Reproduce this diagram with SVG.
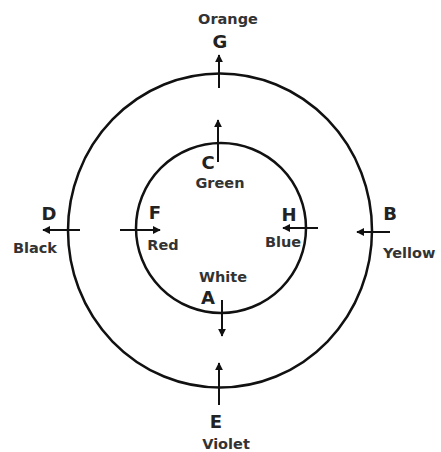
<svg xmlns="http://www.w3.org/2000/svg" width="441" height="452" viewBox="0 0 441 452">
<style>
.ring{fill:none;stroke:#111;stroke-width:2.5}
.arr{stroke:#111;stroke-width:2;fill:none}
.let{font-family:"DejaVu Sans",sans-serif;font-weight:bold;font-size:18px;fill:#222;text-anchor:middle}
.col{font-family:"DejaVu Sans",sans-serif;font-weight:bold;font-size:14.5px;fill:#333;text-anchor:middle}
</style>
<defs>
<marker id="ah" viewBox="0 0 10 10" refX="9" refY="5" markerWidth="4" markerHeight="4" orient="auto">
<path d="M0,0 L10,5 L0,10 z" fill="#111"/>
</marker>
</defs>
<rect width="441" height="452" fill="#fff"/>
<g id="outer"><ellipse class="ring" cx="220" cy="230.5" rx="152" ry="157"/></g>
<g id="inner"><circle class="ring" cx="221" cy="228" r="85"/></g>
<g id="connectors">
<line class="arr" x1="219" y1="88" x2="219" y2="55" marker-end="url(#ah)"/>
<line class="arr" x1="218" y1="162" x2="218" y2="120" marker-end="url(#ah)"/>
<line class="arr" x1="80" y1="230" x2="43" y2="230" marker-end="url(#ah)"/>
<line class="arr" x1="120" y1="230" x2="160" y2="230" marker-end="url(#ah)"/>
<line class="arr" x1="318" y1="228" x2="283" y2="228" marker-end="url(#ah)"/>
<line class="arr" x1="390" y1="232" x2="357" y2="232" marker-end="url(#ah)"/>
<line class="arr" x1="222" y1="300" x2="222" y2="336" marker-end="url(#ah)"/>
<line class="arr" x1="219" y1="405" x2="219" y2="363" marker-end="url(#ah)"/>
</g>
<g id="G"><text class="col" x="228" y="24">Orange</text><text class="let" x="220" y="48">G</text></g>
<g id="C"><text class="let" x="208" y="169">C</text><text class="col" x="220" y="188">Green</text></g>
<g id="D"><text class="let" x="49" y="220">D</text><text class="col" x="35" y="253">Black</text></g>
<g id="F"><text class="let" x="155" y="219">F</text><text class="col" x="163" y="250">Red</text></g>
<g id="H"><text class="let" x="289" y="221">H</text><text class="col" x="283" y="247">Blue</text></g>
<g id="B"><text class="let" x="390" y="220">B</text><text class="col" x="383" y="258" style="text-anchor:start">Yellow</text></g>
<g id="A"><text class="col" x="223" y="282">White</text><text class="let" x="208" y="304">A</text></g>
<g id="E"><text class="let" x="216" y="428">E</text><text class="col" x="226" y="449">Violet</text></g>
</svg>
